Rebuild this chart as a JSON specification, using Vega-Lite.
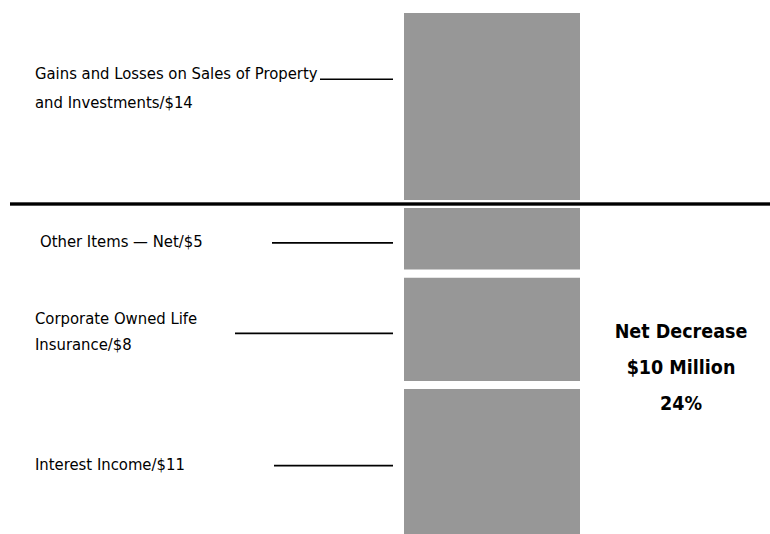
{
  "$schema": "https://vega.github.io/schema/vega-lite/v6.json",
  "width": 770,
  "height": 534,
  "padding": 0,
  "autosize": {"type": "none"},
  "background": "white",
  "config": {"view": {"stroke": null}},
  "data": {
    "values": [
      {"item": "Interest Income", "amount": 11, "label": "Interest Income/$11"},
      {"item": "Corporate Owned Life Insurance", "amount": 8, "label": "Corporate Owned Life\nInsurance/$8"},
      {"item": "Other Items — Net", "amount": 5, "label": "Other Items — Net/$5"},
      {"item": "Gains and Losses on Sales of Property and Investments", "amount": 14, "label": "Gains and Losses on Sales of Property\nand Investments/$14"}
    ]
  },
  "transform": [
    {"stack": "amount", "groupby": [], "as": ["lo", "hi"]},
    {"calculate": "datum.amount === 14 ? datum.lo + 0.64 * (datum.hi - datum.lo) : (datum.lo + datum.hi) / 2 - 0.3", "as": "anchor"}
  ],
  "layer": [
    {
      "mark": {"type": "bar", "color": "#979797", "stroke": "white", "strokeWidth": 8},
      "encoding": {
        "x": {"value": 400},
        "x2": {"value": 584},
        "y": {"field": "lo", "type": "quantitative", "scale": {"domain": [0.29, 38.65], "nice": false, "zero": false}, "axis": null},
        "y2": {"field": "hi"}
      }
    },
    {
      "mark": {"type": "rule", "color": "black", "strokeWidth": 1.6},
      "encoding": {
        "x": {"value": {"expr": "datum.item === 'Other Items — Net' ? 272 : datum.item === 'Corporate Owned Life Insurance' ? 235 : datum.item === 'Interest Income' ? 274 : 320"}},
        "x2": {"value": 393},
        "y": {"field": "anchor", "type": "quantitative"}
      }
    },
    {
      "mark": {"type": "rule", "color": "black", "strokeWidth": 2.5},
      "encoding": {
        "x": {"value": 10},
        "x2": {"value": 770},
        "y": {"datum": 24, "type": "quantitative"}
      }
    },
    {
      "transform": [{"filter": "datum.amount === 5 || datum.amount === 11"}],
      "mark": {"type": "text", "align": "left", "baseline": "middle", "font": "DejaVu Sans Condensed", "fontSize": 16.5, "lineBreak": "\n", "color": "black", "dy": -1},
      "encoding": {
        "x": {"value": {"expr": "datum.item === 'Other Items — Net' ? 40 : 35"}},
        "y": {"field": "anchor", "type": "quantitative"},
        "text": {"field": "label"}
      }
    },
    {
      "transform": [{"filter": "datum.amount === 8"}],
      "mark": {"type": "text", "align": "left", "baseline": "middle", "font": "DejaVu Sans Condensed", "fontSize": 16.5, "lineHeight": 26, "lineBreak": "\n", "color": "black", "dy": -14},
      "encoding": {
        "x": {"value": 35},
        "y": {"field": "anchor", "type": "quantitative"},
        "text": {"field": "label"}
      }
    },
    {
      "transform": [{"filter": "datum.amount === 14"}],
      "mark": {"type": "text", "align": "left", "baseline": "alphabetic", "font": "DejaVu Sans Condensed", "fontSize": 16.5, "lineHeight": 29, "lineBreak": "\n", "color": "black"},
      "encoding": {
        "x": {"value": 35},
        "y": {"field": "anchor", "type": "quantitative"},
        "text": {"field": "label"}
      }
    },
    {
      "data": {"values": [{"note": "Net Decrease\n$10 Million\n24%"}]},
      "mark": {"type": "text", "align": "center", "baseline": "middle", "font": "DejaVu Sans Condensed", "fontSize": 19.5, "fontWeight": "bold", "lineHeight": 36, "lineBreak": "\n", "color": "black"},
      "encoding": {
        "x": {"value": 681},
        "y": {"value": 332},
        "text": {"field": "note"}
      }
    }
  ]
}
